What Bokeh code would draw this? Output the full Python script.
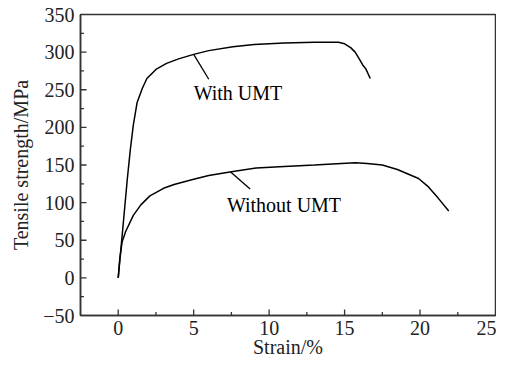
from bokeh.plotting import figure
from bokeh.models import Range1d, SingleIntervalTicker, CustomJSTickFormatter
from bokeh.core.properties import value
from bokeh.embed import file_html
from bokeh.resources import INLINE

# With UMT curve
with_strain = [0, 0.3, 0.6, 0.8, 1.0, 1.25, 1.6, 1.9, 2.5, 3.2, 4.0, 5.0, 6.0, 7.6, 9.0, 11.0, 13.0, 14.6, 15.0, 15.4, 15.7, 16.0, 16.2, 16.4, 16.7]
with_stress = [0, 65, 131, 170, 203, 233, 252, 265, 277, 285, 291, 297, 302, 307, 310, 312, 313, 313, 311, 306, 300, 290, 283, 278, 265]

# Without UMT curve
without_strain = [0, 0.1, 0.26, 0.5, 1.0, 1.5, 2.1, 3.0, 3.7, 5.0, 6.0, 7.5, 9.15, 11.0, 13.0, 15.7, 16.5, 17.5, 18.5, 19.9, 20.5, 21.2, 21.9]
without_stress = [0, 25, 48, 62, 83, 97, 109, 119, 124, 131, 136, 141, 146, 148, 150, 153, 152, 150, 144, 132, 122, 106, 89]

# axis ranges and tick positions
x_min, x_max = -2.5, 25
y_min, y_max = -50, 350
x_major = [0, 5, 10, 15, 20]
x_minor = [2.5, 7.5, 12.5, 17.5, 22.5]
y_major = [0, 50, 100, 150, 200, 250, 300]
y_minor = [-25, 25, 75, 125, 175, 225, 275, 325]

# annotations
label_text = ["With UMT", "Without UMT"]
label_x = [5.0, 7.2]
label_y = [246, 97]
leader_x0 = [5.0, 7.43]
leader_y0 = [297, 141]
leader_x1 = [6.0, 8.74]
leader_y1 = [264, 118]

FONT = "Liberation Serif"
TICK = "#333333"
# inward tick lengths in data units (about 6 px major, 3.5 px minor)
XT_MAJ, XT_MIN = 8.0, 4.5      # along y (for x-axis ticks)
YT_MAJ, YT_MIN = 0.40, 0.23    # along x (for y-axis ticks)

p = figure(width=496, height=360, output_backend="svg", toolbar_location=None,
           x_range=Range1d(x_min, x_max), y_range=Range1d(y_min, y_max),
           min_border_left=80, min_border_right=1, min_border_top=14, min_border_bottom=38)

p.background_fill_color = "white"
p.border_fill_color = "white"
p.outline_line_color = TICK
p.outline_line_width = 1.5
p.grid.visible = False

p.line(with_strain, with_stress, line_color="black", line_width=1.5)
p.line(without_strain, without_stress, line_color="black", line_width=1.5)
p.segment(x0=leader_x0, y0=leader_y0, x1=leader_x1, y1=leader_y1, line_color="black", line_width=1.3)
p.text(x=label_x, y=label_y, text=label_text, text_font=value(FONT), text_font_size="20px",
       text_baseline="middle", text_align="left", text_color="black")

# inward ticks
p.segment(x0=x_major, y0=[y_min] * len(x_major), x1=x_major, y1=[y_min + XT_MAJ] * len(x_major),
          line_color=TICK, line_width=1.3)
p.segment(x0=x_minor, y0=[y_min] * len(x_minor), x1=x_minor, y1=[y_min + XT_MIN] * len(x_minor),
          line_color=TICK, line_width=1.3)
p.segment(x0=[x_min] * len(y_major), y0=y_major, x1=[x_min + YT_MAJ] * len(y_major), y1=y_major,
          line_color=TICK, line_width=1.3)
p.segment(x0=[x_min] * len(y_minor), y0=y_minor, x1=[x_min + YT_MIN] * len(y_minor), y1=y_minor,
          line_color=TICK, line_width=1.3)

p.xaxis.ticker = SingleIntervalTicker(interval=5, num_minor_ticks=2)
p.yaxis.ticker = SingleIntervalTicker(interval=50, num_minor_ticks=2)
p.yaxis.formatter = CustomJSTickFormatter(code="return tick < 0 ? '\u2212' + Math.abs(tick) : '' + tick;")

for ax in (p.xaxis[0], p.yaxis[0]):
    ax.axis_line_color = TICK
    ax.axis_line_width = 1.5
    ax.major_tick_line_color = None
    ax.minor_tick_line_color = None
    ax.major_tick_in = 0
    ax.major_tick_out = 0
    ax.minor_tick_in = 0
    ax.minor_tick_out = 0
    ax.major_label_text_font = FONT
    ax.major_label_text_font_size = "20px"
    ax.major_label_text_color = "#222222"
    ax.axis_label_text_font = FONT
    ax.axis_label_text_font_size = "20px"
    ax.axis_label_text_font_style = "normal"
    ax.axis_label_text_color = "#222222"

p.xaxis.axis_label = "Strain/%"
p.yaxis.axis_label = "Tensile strength/MPa"
p.xaxis.major_label_standoff = 5
p.xaxis.axis_label_standoff = -2
p.yaxis.major_label_standoff = 6
p.yaxis.axis_label_standoff = 8

open("out.html", "w").write(file_html(p, INLINE))
